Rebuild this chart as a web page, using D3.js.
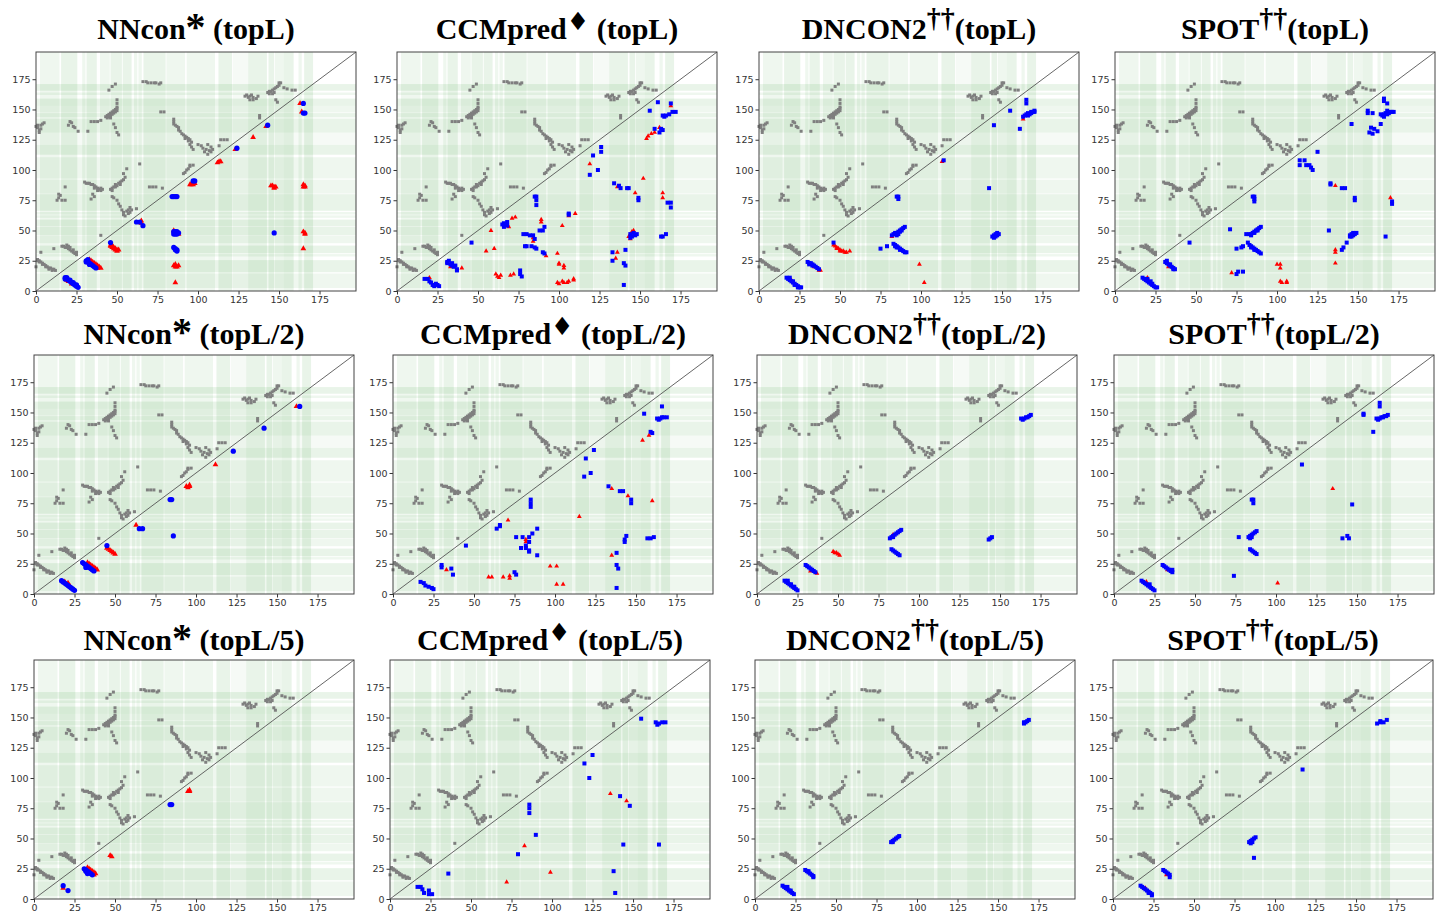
<!DOCTYPE html>
<html>
<head>
<meta charset="utf-8">
<script src="https://cdn.jsdelivr.net/npm/d3@7"></script>
<style>
body { margin: 0; background: #fff; }
svg { display: block; }
.tick text { font-family: "DejaVu Sans", sans-serif; font-size: 9.5px; fill: #333; }
.tick line { stroke: #333; }
.title { font-family: "Liberation Serif", "Times New Roman", serif; font-weight: bold; font-size: 30px; fill: #000; }
</style>
</head>
<body>
<svg id="chart" width="1438" height="916"></svg>
<script>
// residue range of every contact map
var axisDomain = [0, 197.5]
var tickValues = [0, 25, 50, 75, 100, 125, 150, 175]

var methods = ['NNcon', 'CCMpred', 'DNCON2', 'SPOT']
var methodMarks = ['*', '\u2666', '\u2020\u2020', '\u2020\u2020']
var topCuts = ['topL', 'topL/2', 'topL/5']

// shaded residue segments [start, end, level]
var stripeSegs = [
	[2.5, 14.5, 1], [15.5, 25.5, 2], [28.5, 30.5, 1], [31.2, 37.5, 2], [39.5, 45.5, 1],
	[46, 53, 2], [53.5, 59, 2], [60.5, 62.5, 1], [63.2, 65.3, 1], [66.3, 80, 2],
	[80.5, 92, 1], [93, 110.5, 1], [112.6, 121, 2], [121.5, 131, 0], [131, 142.5, 2],
	[143.5, 147, 2], [147.5, 153, 1], [153, 159, 2], [162, 164, 1], [165.5, 171, 2]
]

// native contacts [i, j], drawn above the diagonal
var nativeContacts = [
	[0,136],[1,135],[1,137],[2,133],[2,131],[3,137],[3,134],[4,138],[5,139],
	[21,140],[22,139],[20,137],[23,136],[24,135],[26,132],
	[32,132],[34,140],[36,140],[38,140],[40,141],
	[43,144],[44,145],[45,144],[45,146],[46,145],[46,147],[47,146],[47,148],[48,147],[48,149],[49,148],[49,150],[50,149],[50,151],[44,143],[46,143],
	[48,138],[49,135],[50,131],[51,129],
	[45,166],[47,169],[49,171],[50,158],[50,155],[50,152],
	[66,173],[68,173],[69,172],[71,172],[73,172],[74,172],[76,171],[77,172],
	[77,148],[79,148],
	[85,142],[85,140],[85,138],[86,137],[87,136],[88,135],[88,133],[89,132],[90,130],[91,129],[92,128],[92,126],[93,127],[94,126],[94,124],[95,125],[96,123],[95,121],[96,119],[97,117],
	[100,121],[102,120],[103,118],[104,115],[105,117],[106,121],[106,113],[107,116],[108,119],[108,115],[109,117],[113,120],[114,125],[116,125],[118,125],
	[129,161],[130,162],[131,160],[132,161],[133,162],[134,160],[134,158],[136,159],[137,161],[132,158],[138,145],[138,143],
	[143,164],[144,165],[145,165],[146,166],[147,167],[148,168],[149,169],[150,170],[150,172],[151,172],[144,163],[146,163],[147,164],[148,158],[149,156],
	[153,168],[155,167],[158,166],[160,166],
	[30,90],[31,89],[32,89],[33,89],[34,88],[35,88],[36,87],[37,86],[38,85],[39,84],[40,83],[40,85],[41,84],[36,85],[38,83],[35,80],[36,78],[34,76],
	[18,86],[14,80],[15,79],[14,77],[13,75],[16,75],[18,75],
	[46,84],[47,85],[47,83],[48,86],[49,86],[49,88],[50,87],[51,89],[52,90],[52,88],[53,91],[54,92],[55,94],[54,97],[56,101],
	[47,78],[48,77],[50,75],[51,72],[52,70],[53,67],[54,65],[54,63],[55,62],[56,66],[57,64],[57,67],[58,65],[58,69],[59,67],[62,68],[64,105],
	[70,86],[72,86],[74,86],[78,85],
	[91,97],[92,98],[93,100],[94,101],[95,103],[95,104],[97,104],
	[0,20],[1,26],[2,25],[3,24],[4,23],[5,22],[6,21],[7,20],[8,19],[9,19],[10,18],[11,18],[12,17],[1,25],[2,24],[4,22],[6,20],[8,18],[10,17],[3,32],
	[11,35],
	[16,37],[17,37],[18,36],[19,38],[19,36],[20,37],[20,35],[21,34],[21,36],[22,33],[23,34],[23,32],[24,31],[25,32],[25,30],
	[40,46]
]

// predicted contacts [j, i, correct]
var predNNconL = [
	[18,11,1],[19,10,1],[20,9,1],[21,8,1],[22,7,1],[23,6,1],[24,5,1],[25,4,1],[26,3,1],[19,11,1],[21,9,1],[23,7,1],[25,5,1],[18,10,1],
	[20,8,0],[22,6,0],[19,9,0],
	[31,25,1],[32,24,1],[33,23,1],[34,22,1],[35,21,1],[36,20,1],[37,19,1],[32,26,1],[31,24,1],[33,22,1],
	[33,26,0],[34,25,0],[35,24,0],[36,23,0],[37,22,0],[38,21,0],[39,20,0],[40,19,0],[36,21,0],[38,19,0],
	[46,40,1],[46,38,0],[47,37,0],[47,36,0],[48,36,0],[49,35,0],[50,34,0],[51,34,0],[48,35,0],[49,34,0],[50,33,0],[46,37,0],[47,38,0],
	[62,57,1],[64,57,1],[66,54,1],[65,58,0],[65,56,0],
	[84,78,1],[85,78,1],[86,78,1],[87,78,1],
	[85,49,1],[86,49,1],[87,49,1],[85,47,1],[86,47,1],[87,47,1],[86,48,1],[88,48,1],[85,50,0],[88,47,0],
	[85,36,1],[86,35,1],[87,34,1],[86,34,1],[87,33,1],
	[85,21,0],[86,20,0],[87,20,0],[86,22,0],[88,21,0],[86,7,0],
	[95,88,0],[96,89,0],[97,88,0],[97,90,0],[98,89,0],[96,88,0],[97,91,1],[98,91,1],
	[112,106,0],[113,107,0],[114,107,0],[123,117,0],[124,118,1],[134,127,0],[142,136,0],[143,137,1],
	[145,87,0],[146,87,0],[147,86,0],[148,86,0],[147,85,0],[147,48,1],
	[163,155,0],[164,148,0],[165,155,1],[166,147,1],[165,147,1],
	[165,88,0],[166,87,0],[165,86,0],[166,86,0],[165,49,0],[166,48,0],[166,47,0],[165,35,0]
]
var predCCMpredL = [
	[17,10,1],[19,10,1],[20,8,1],[21,7,1],[22,5,1],[23,4,1],[24,6,1],[25,5,1],[26,4,1],[20,11,0],
	[31,24,1],[31,23,1],[32,25,1],[33,22,1],[34,21,1],[35,20,1],[36,21,1],[37,18,1],[37,17,1],[34,23,1],[33,20,0],[40,19,0],
	[46,40,1],[55,33,0],[60,35,0],[58,50,0],
	[66,56,1],[68,57,1],[66,53,1],[68,54,1],[65,55,1],[69,53,0],[71,60,0],[73,61,0],
	[61,14,0],[62,12,0],[63,11,0],[64,13,0],[70,13,0],[72,14,0],[76,17,1],[76,14,1],[77,12,1],
	[78,47,1],[80,47,1],[79,37,1],[80,37,1],[82,46,1],[84,46,1],[85,43,1],[83,37,1],[85,36,1],[86,35,1],[88,50,1],[90,50,1],[91,53,1],[90,32,1],[91,31,1],
	[84,44,0],[84,41,0],[92,29,0],[89,59,0],[89,57,0],
	[85,78,1],[86,78,1],[86,75,1],[86,71,1],
	[99,31,0],[100,23,0],[100,22,0],[103,21,0],[103,19,0],[99,7,0],[100,6,0],[102,8,0],[103,7,0],[105,7,0],[106,8,0],[109,9,0],[109,10,0],
	[102,54,0],[106,63,1],[106,64,1],[106,62,0],[110,64,0],
	[119,105,0],[119,96,1],[121,112,1],[124,100,1],[126,119,1],[126,115,1],
	[134,89,1],[137,87,1],[138,85,1],[142,85,1],[143,85,1],[136,86,0],[147,81,0],[149,77,1],[149,75,1],[152,93,0],
	[164,81,0],[164,77,0],[167,73,1],[169,73,1],[169,69,1],
	[133,32,1],[133,25,1],[136,32,0],[135,27,0],[140,23,1],[141,21,1],[141,34,1],[140,5,1],
	[144,47,1],[145,45,1],[146,48,1],[147,46,1],[148,47,1],[144,44,1],[143,45,0],[145,49,0],[146,50,0],[144,43,0],
	[163,45,1],[164,45,1],[166,47,1],
	[156,149,1],[161,156,1],[164,145,1],[165,144,1],[166,145,1],[168,146,1],[170,148,1],[172,148,1],[169,155,1],[159,134,1],[162,131,1],[163,134,1],[164,133,1],
	[154,126,0],[155,128,0],[157,130,0],[159,131,0],[162,135,0],[169,153,0]
]
var predDNCON2L = [
	[17,11,1],[18,10,1],[19,9,1],[20,8,1],[21,7,1],[22,6,1],[23,5,1],[24,4,1],[25,3,1],[26,3,1],[19,11,1],[21,8,1],[22,5,1],[24,3,1],[19,10,0],[20,9,0],
	[30,24,1],[31,23,1],[32,23,1],[33,22,1],[34,21,1],[35,20,1],[36,19,1],[37,18,1],[31,22,1],[33,21,1],[34,20,0],[37,17,0],[38,17,0],
	[46,40,1],[46,38,0],[47,37,0],[48,36,0],[49,35,0],[50,34,0],[51,33,0],[52,33,0],[53,32,0],[54,32,0],[48,35,0],[50,33,0],[56,33,0],
	[85,78,1],[86,78,1],[86,76,1],[75,35,1],[79,37,1],
	[82,46,1],[83,47,1],[84,47,1],[84,48,1],[85,48,1],[86,49,1],[87,50,1],[88,51,1],[89,52,1],[90,53,1],[85,46,1],[86,47,1],[87,49,1],[88,50,1],[82,45,0],
	[83,39,1],[84,38,1],[84,37,1],[85,37,1],[86,36,1],[87,35,1],[88,34,1],[89,33,1],[90,32,1],[91,32,1],[85,36,1],[87,34,1],
	[99,22,0],[102,7,0],[114,108,1],[113,107,0],[142,85,1],
	[144,45,1],[145,46,1],[146,47,1],[147,48,1],[146,45,1],[147,46,1],[145,44,1],[148,47,1],
	[145,137,1],[155,149,1],[161,134,1],
	[165,158,1],[165,155,1],[163,144,1],[164,145,1],[165,146,1],[166,145,1],[167,146,1],[168,147,1],[169,148,1],[170,148,1],[170,149,1],[166,147,1],[168,148,1],[163,142,0]
]
var predSPOTL = [
	[17,11,1],[18,10,1],[19,9,1],[20,8,1],[21,7,1],[22,6,1],[23,5,1],[24,4,1],[25,3,1],[26,3,1],[20,10,1],[22,8,1],[23,6,1],[20,11,0],
	[31,24,1],[32,23,1],[33,22,1],[34,21,1],[35,20,1],[36,19,1],[37,18,1],[32,25,1],[34,22,1],[36,18,1],[33,20,0],
	[46,40,1],[71,51,1],[75,35,1],[75,14,1],[76,16,1],[79,16,1],[72,15,0],[78,36,1],[79,37,1],
	[81,47,1],[83,47,1],[84,47,1],[85,48,1],[86,49,1],[87,50,1],[88,51,1],[89,52,1],[90,53,1],[84,46,1],[86,48,1],[88,50,1],
	[82,40,1],[83,38,1],[84,37,1],[85,36,1],[86,35,1],[87,34,1],[88,33,1],[89,32,1],[90,31,1],[84,36,1],[86,34,1],
	[85,78,1],[86,78,1],[86,76,1],[86,74,1],
	[100,22,0],[102,22,0],[102,19,0],[102,8,0],[103,7,0],[106,8,0],[106,7,0],
	[114,108,1],[114,104,1],[117,108,1],[118,104,1],[120,104,1],[121,102,1],[122,100,1],[125,115,1],
	[133,89,1],[133,88,1],[136,87,0],[140,85,1],[142,85,1],[148,77,1],[148,75,1],
	[132,50,1],[141,36,1],[140,34,1],[143,40,1],[145,45,1],[145,46,1],[146,47,1],[147,46,1],[147,48,1],[148,47,1],[149,48,1],[146,45,1],
	[136,34,0],[136,32,0],[136,23,0],
	[167,45,1],[171,74,1],[171,72,1],[170,77,0],
	[146,138,1],[156,149,1],[156,147,1],[159,147,1],[158,135,1],[157,131,1],[159,130,1],[160,134,1],[162,132,1],[164,138,1],
	[166,159,1],[166,157,1],[168,155,1],[164,146,1],[165,145,1],[166,146,1],[167,147,1],[168,146,1],[169,147,1],[170,148,1],[171,148,1],[172,148,1],[166,144,1],[168,149,1]
]
var predNNconL2 = [
	[17,11,1],[18,10,1],[19,9,1],[20,8,1],[21,7,1],[22,6,1],[23,5,1],[24,4,1],[25,3,1],[19,10,0],[20,8,0],[21,9,0],[22,7,0],
	[30,26,1],[31,25,1],[32,24,1],[33,23,1],[34,22,1],[35,21,1],[36,20,1],[37,19,1],[32,22,1],
	[33,26,0],[34,25,0],[35,24,0],[36,23,0],[37,22,0],[38,21,0],[39,20,0],
	[45,40,1],[45,38,0],[46,37,0],[47,36,0],[48,35,0],[49,34,0],[50,33,0],
	[63,57,0],[65,54,1],[67,54,1],[84,78,1],[85,78,1],[86,48,1],
	[94,89,0],[95,88,0],[96,89,0],[96,90,0],[112,107,0],[123,118,1],[142,137,1],[162,155,0],[164,155,1]
]
var predCCMpredL2 = [
	[17,10,1],[19,9,1],[20,7,1],[22,6,1],[24,5,1],[25,4,1],
	[30,24,1],[30,22,1],[33,20,0],[36,21,1],[37,16,1],[45,40,1],
	[64,54,1],[66,56,1],[66,57,1],[71,61,0],
	[76,47,1],[80,47,1],[79,38,1],[82,38,1],[84,47,1],[84,43,1],[82,45,0],[82,43,0],[82,40,1],[84,36,1],[84,35,1],[86,50,1],[89,54,1],[89,32,1],
	[85,78,1],[85,75,1],[85,72,1],[75,18,1],[76,16,1],
	[59,14,0],[61,14,0],[68,14,0],[72,15,0],[72,13,0],
	[97,23,0],[101,23,0],[101,8,0],[105,8,0],[115,64,0],
	[118,97,1],[119,112,1],[122,100,1],[124,119,1],
	[133,89,1],[135,87,0],[140,85,1],[142,85,1],[145,81,0],[147,78,1],[147,75,1],[160,77,0],
	[135,32,0],[138,34,1],[138,24,1],[139,21,1],[138,5,1],
	[143,45,1],[143,43,1],[144,48,1],[157,46,1],[159,46,1],[161,47,1],
	[155,149,1],[166,155,1],[163,145,1],[164,144,1],[165,145,1],[166,146,1],[167,146,1],[169,146,1],
	[159,134,1],[160,133,1],[158,131,0],[154,127,0]
]
var predDNCON2L2 = [
	[17,11,1],[18,10,1],[19,9,1],[20,8,1],[21,7,1],[22,6,1],[23,5,1],[24,4,1],[25,3,1],[19,11,1],[21,8,1],[23,6,1],
	[30,24,1],[31,23,1],[32,22,1],[33,21,1],[34,20,1],[35,19,1],[36,18,1],[33,19,0],[37,17,0],
	[47,35,0],[48,34,0],[49,34,0],[50,33,0],[51,32,0],
	[82,46,1],[83,47,1],[84,48,1],[85,49,1],[86,50,1],[87,51,1],[88,52,1],[89,53,1],[84,47,1],[84,49,0],
	[83,37,1],[84,36,1],[85,35,1],[86,34,1],[87,33,1],[88,32,1],
	[143,45,1],[144,46,1],[145,47,1],
	[163,145,1],[164,144,1],[165,145,1],[166,146,1],[167,146,1],[168,147,1],[169,148,1]
]
var predSPOTL2 = [
	[17,11,1],[18,10,1],[19,9,1],[20,8,1],[21,7,1],[22,6,1],[23,5,1],[24,4,1],[25,3,1],[22,8,1],[20,10,0],
	[30,24,1],[31,23,1],[32,22,1],[33,21,1],[34,20,1],[35,19,1],[36,18,1],[36,20,1],[33,20,0],
	[77,47,1],[74,15,1],
	[83,47,1],[84,48,1],[85,49,1],[86,50,1],[87,51,1],[88,52,1],[84,46,1],[85,47,1],
	[84,37,1],[85,36,1],[86,35,1],[87,34,1],[88,33,1],
	[85,78,1],[86,78,1],[86,75,1],
	[135,87,0],[101,9,0],[116,107,1],[147,74,1],
	[141,46,1],[144,48,1],[145,46,1],
	[154,149,1],[154,148,1],[160,134,1],[164,158,1],[164,155,1],
	[162,145,1],[163,144,1],[164,145,1],[165,146,1],[166,146,1],[167,147,1],[168,147,1],[169,148,1]
]
var predNNconL5 = [
	[18,11,1],[21,7,1],[18,9,0],
	[31,25,1],[32,24,1],[33,23,1],[34,22,1],[35,21,1],[36,20,1],[32,23,1],[33,21,1],
	[33,26,0],[34,25,0],[35,24,0],[36,23,0],[37,22,0],[38,21,0],[37,20,0],
	[47,36,0],[48,35,0],[84,78,1],[85,78,1],[95,89,0],[96,89,0],[96,90,0]
]
var predCCMpredL5 = [
	[17,10,1],[19,10,1],[20,8,1],[21,5,1],[24,7,1],[26,4,1],[24,4,1],
	[36,21,1],[79,37,1],[90,53,1],[86,78,1],[86,75,1],[86,71,1],
	[72,14,0],[83,44,0],[99,22,0],
	[120,112,1],[123,100,1],[125,119,1],
	[136,87,0],[142,85,1],[146,81,0],[148,77,1],
	[138,23,1],[139,5,1],[144,45,1],[166,45,1],
	[155,149,1],[164,146,1],[166,145,1],[168,146,1],[170,146,1],[165,144,1]
]
var predDNCON2L5 = [
	[17,11,1],[18,10,1],[19,9,1],[20,8,1],[21,7,1],[22,6,1],[23,5,1],[24,4,1],[20,10,1],[22,7,1],
	[31,24,1],[32,23,1],[33,22,1],[34,21,1],[35,20,1],[36,19,1],[36,18,1],[33,23,1],
	[84,47,1],[85,48,1],[86,49,1],[87,50,1],[88,51,1],[89,52,1],[85,47,1],
	[166,145,1],[167,146,1],[168,147,1],[169,148,1],[166,146,1]
]
var predSPOTL5 = [
	[17,11,1],[18,10,1],[19,9,1],[20,8,1],[21,7,1],[22,6,1],[23,5,1],[24,4,1],[24,3,1],[22,5,1],[20,9,0],
	[31,24,1],[32,23,1],[33,22,1],[34,21,1],[35,20,1],[35,18,1],[33,20,0],
	[84,47,1],[85,46,1],[85,48,1],[86,49,1],[87,50,1],[88,51,1],[86,47,1],
	[87,34,1],[117,107,1],
	[163,145,1],[165,146,1],[165,147,1],[167,146,1],[169,148,1]
]

var panelPreds = [
	[predNNconL, predCCMpredL, predDNCON2L, predSPOTL],
	[predNNconL2, predCCMpredL2, predDNCON2L2, predSPOTL2],
	[predNNconL5, predCCMpredL5, predDNCON2L5, predSPOTL5]
]

;(function() {

	var svg = d3.select('#chart')
	var panelW = 320
	var panelH = 239
	var rowTops = [52, 355, 660]
	var titleBase = [39, 344, 650]
	var colLefts = [[36, 397, 759, 1115], [34, 393, 757, 1114], [34, 390, 755, 1113]]
	var scales = {}

	function setupScales() {
		scales.x = d3.scaleLinear().domain(axisDomain).range([0, panelW])
		scales.y = d3.scaleLinear().domain(axisDomain).range([panelH, 0])
		scales.stripe = function(lvl) { return lvl == 2 ? 0.095 : (lvl == 1 ? 0.07 : 0.04) }
	}

	function drawTitle(row, col) {
		var cx = colLefts[row][col] + panelW / 2
		var t = svg.append('text')
			.attr('class', 'title')
			.attr('x', cx)
			.attr('y', titleBase[row])
			.attr('text-anchor', 'middle')

		t.append('tspan').text(methods[col])
		var mark = methodMarks[col]
		var sp = col < 2 ? ' ' : ''
		var up = 0
		if (mark == '*') {
			up = 1
			t.append('tspan').attr('dy', up).style('font-size', '40px').text(mark)
		} else if (col == 1) {
			up = -9
			t.append('tspan').attr('dy', up).style('font-family', '"DejaVu Sans", sans-serif').style('font-size', '25px').text(mark)
		} else {
			up = -12
			t.append('tspan').attr('dy', up).style('font-size', '28px').text(mark)
		}
		t.append('tspan').attr('dy', -up).text(sp + '(' + topCuts[row] + ')')
	}

	function drawPanel(row, col) {
		var g = svg.append('g')
			.attr('class', 'panel')
			.attr('transform', 'translate(' + colLefts[row][col] + ',' + rowTops[row] + ')')

		var bg = g.append('g').attr('class', 'stripes')
		bg.selectAll('.vstripe')
			.data(stripeSegs)
			.enter()
			.append('rect')
			.attr('class', 'vstripe')
			.attr('x', function(d) { return scales.x(d[0]) })
			.attr('width', function(d) { return scales.x(d[1]) - scales.x(d[0]) })
			.attr('y', 0)
			.attr('height', panelH)
			.attr('fill', '#1a8a1a')
			.attr('fill-opacity', function(d) { return scales.stripe(d[2]) })

		bg.selectAll('.hstripe')
			.data(stripeSegs)
			.enter()
			.append('rect')
			.attr('class', 'hstripe')
			.attr('y', function(d) { return scales.y(d[1]) })
			.attr('height', function(d) { return scales.y(d[0]) - scales.y(d[1]) })
			.attr('x', 0)
			.attr('width', panelW)
			.attr('fill', '#1a8a1a')
			.attr('fill-opacity', function(d) { return scales.stripe(d[2]) })

		g.append('line')
			.attr('x1', scales.x(axisDomain[0]))
			.attr('y1', scales.y(axisDomain[0]))
			.attr('x2', scales.x(axisDomain[1]))
			.attr('y2', scales.y(axisDomain[1]))
			.attr('stroke', '#555')
			.attr('stroke-width', 0.9)

		g.append('g').attr('class', 'native')
			.selectAll('rect')
			.data(nativeContacts)
			.enter()
			.append('rect')
			.attr('x', function(d) { return scales.x(d[0]) - 1.5 })
			.attr('y', function(d) { return scales.y(d[1]) - 1.5 })
			.attr('width', 3)
			.attr('height', 3)
			.attr('fill', '#7f7f7f')

		var preds = panelPreds[row][col]
		var big = col == 0
		var tri = d3.symbol().type(d3.symbolTriangle).size(big ? 14 : 10)

		g.append('g').attr('class', 'wrong')
			.selectAll('path')
			.data(preds.filter(function(d) { return !d[2] }))
			.enter()
			.append('path')
			.attr('d', tri)
			.attr('transform', function(d) { return 'translate(' + scales.x(d[0]) + ',' + scales.y(d[1]) + ')' })
			.attr('fill', '#ff0000')

		var right = g.append('g').attr('class', 'right')
			.selectAll('.ok')
			.data(preds.filter(function(d) { return d[2] }))
			.enter()
		if (big) {
			right.append('circle')
				.attr('cx', function(d) { return scales.x(d[0]) })
				.attr('cy', function(d) { return scales.y(d[1]) })
				.attr('r', 2.6)
				.attr('fill', '#0000ff')
		} else {
			right.append('rect')
				.attr('x', function(d) { return scales.x(d[0]) - 2 })
				.attr('y', function(d) { return scales.y(d[1]) - 2 })
				.attr('width', 4)
				.attr('height', 4)
				.attr('fill', '#0000ff')
		}

		var axisX = d3.axisBottom(scales.x).tickValues(tickValues).tickSize(3.5).tickPadding(2)
		var axisY = d3.axisLeft(scales.y).tickValues(tickValues).tickSize(3.5).tickPadding(2)

		g.append('g')
			.attr('class', 'axis axis--x')
			.attr('transform', 'translate(0,' + panelH + ')')
			.call(axisX)
		g.append('g')
			.attr('class', 'axis axis--y')
			.call(axisY)
		g.selectAll('.axis .domain').remove()

		g.append('rect')
			.attr('x', 0)
			.attr('y', 0)
			.attr('width', panelW)
			.attr('height', panelH)
			.attr('fill', 'none')
			.attr('stroke', '#444')
			.attr('stroke-width', 1)

		drawTitle(row, col)
	}

	function init() {
		setupScales()
		for (var r = 0; r < topCuts.length; r++) {
			for (var c = 0; c < methods.length; c++) {
				drawPanel(r, c)
			}
		}
	}

	init()
})()
</script>
</body>
</html>
